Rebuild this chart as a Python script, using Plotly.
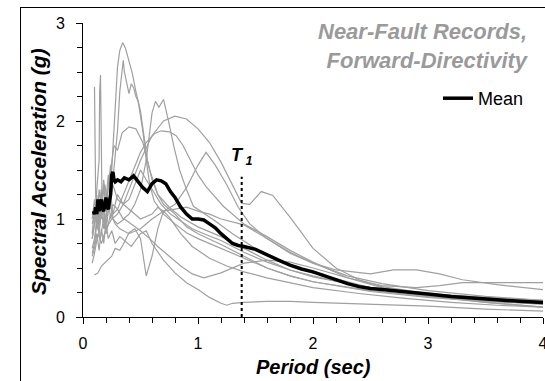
import plotly.graph_objects as go

# ---- response spectra of the individual near-fault records (period in s, Sa in g) ----
rec01_T = [0.08, 0.10, 0.12, 0.14, 0.16, 0.18, 0.20, 0.22, 0.24, 0.26, 0.28, 0.30, 0.32, 0.345, 0.37, 0.40, 0.43, 0.46, 0.50, 0.53, 0.56, 0.60, 0.65, 0.70, 0.80, 0.90, 1.00, 1.20, 1.40, 1.60, 1.80, 2.00, 2.50, 3.00, 3.50, 4.00]
rec01_Sa = [0.95, 1.05, 1.25, 0.95, 1.30, 1.05, 1.20, 1.45, 1.30, 1.70, 2.20, 2.55, 2.72, 2.80, 2.74, 2.60, 2.48, 2.30, 2.10, 1.85, 1.60, 1.40, 1.25, 1.15, 1.05, 0.92, 0.85, 0.74, 0.62, 0.50, 0.42, 0.36, 0.27, 0.21, 0.17, 0.14]

rec02_T = [0.08, 0.10, 0.12, 0.14, 0.16, 0.18, 0.20, 0.22, 0.24, 0.26, 0.28, 0.30, 0.32, 0.34, 0.35, 0.36, 0.38, 0.40, 0.42, 0.44, 0.46, 0.48, 0.50, 0.52, 0.55, 0.58, 0.62, 0.70, 0.80, 0.90, 1.00, 1.20, 1.40, 1.60, 1.80, 2.00, 2.50, 3.00, 3.50, 4.00]
rec02_Sa = [0.85, 1.10, 0.90, 1.20, 1.00, 1.35, 1.10, 1.30, 1.55, 1.40, 1.65, 1.90, 2.30, 2.55, 2.62, 2.50, 2.40, 2.28, 2.38, 2.34, 2.25, 2.20, 2.05, 1.90, 1.60, 1.35, 1.18, 1.05, 0.95, 0.86, 0.80, 0.70, 0.60, 0.50, 0.42, 0.36, 0.26, 0.20, 0.16, 0.13]

rec03_T = [0.08, 0.10, 0.12, 0.14, 0.16, 0.18, 0.20, 0.22, 0.24, 0.27, 0.30, 0.34, 0.40, 0.46, 0.52, 0.58, 0.65, 0.75, 0.85, 1.00, 1.20, 1.40, 1.60, 1.80, 2.00, 2.50, 3.00, 3.50, 4.00]
rec03_Sa = [1.00, 1.20, 0.95, 1.30, 1.10, 1.40, 1.15, 1.35, 1.50, 1.75, 1.70, 1.88, 1.94, 1.92, 1.78, 1.50, 1.25, 1.12, 1.02, 0.92, 0.82, 0.70, 0.58, 0.48, 0.41, 0.30, 0.24, 0.19, 0.16]

rec04_T = [0.08, 0.10, 0.12, 0.14, 0.16, 0.18, 0.20, 0.22, 0.24, 0.26, 0.30, 0.35, 0.40, 0.45, 0.50, 0.55, 0.60, 0.63, 0.66, 0.70, 0.74, 0.79, 0.84, 0.90, 0.96, 1.05, 1.15, 1.30, 1.50, 1.75, 2.00, 2.50, 3.00, 3.50, 4.00]
rec04_Sa = [0.70, 0.80, 1.00, 0.85, 1.10, 0.90, 1.05, 1.20, 1.00, 1.15, 1.10, 1.00, 1.05, 1.15, 1.30, 1.60, 2.08, 2.20, 2.14, 2.22, 2.02, 1.74, 1.50, 1.30, 1.13, 1.06, 0.98, 0.85, 0.70, 0.55, 0.45, 0.30, 0.22, 0.17, 0.13]

rec05_T = [0.08, 0.10, 0.13, 0.16, 0.20, 0.25, 0.30, 0.35, 0.40, 0.50, 0.60, 0.70, 0.80, 0.90, 1.00, 1.10, 1.20, 1.30, 1.38, 1.45, 1.55, 1.65, 1.80, 1.90, 2.00, 2.20, 2.40, 2.60, 3.00, 3.50, 4.00]
rec05_Sa = [0.55, 0.65, 0.85, 0.75, 0.90, 1.00, 1.05, 1.15, 1.30, 1.60, 1.85, 2.00, 2.05, 2.02, 1.92, 1.78, 1.58, 1.35, 1.16, 1.15, 1.28, 1.24, 1.02, 0.86, 0.70, 0.50, 0.38, 0.31, 0.24, 0.20, 0.17]

rec06_T = [0.08, 0.10, 0.12, 0.15, 0.18, 0.20, 0.24, 0.28, 0.32, 0.40, 0.50, 0.60, 0.70, 0.80, 0.90, 1.00, 1.07, 1.15, 1.25, 1.35, 1.45, 1.60, 1.80, 2.00, 2.20, 2.50, 2.70, 2.90, 3.10, 3.30, 3.60, 4.00]
rec06_Sa = [0.65, 0.75, 0.95, 0.80, 1.00, 0.85, 1.05, 0.95, 0.90, 0.85, 0.90, 1.00, 1.08, 1.15, 1.32, 1.55, 1.68, 1.55, 1.35, 1.12, 0.95, 0.80, 0.66, 0.55, 0.48, 0.44, 0.48, 0.48, 0.44, 0.38, 0.33, 0.28]

rec07_T = [0.08, 0.10, 0.12, 0.14, 0.17, 0.20, 0.23, 0.26, 0.30, 0.35, 0.40, 0.45, 0.50, 0.55, 0.62, 0.68, 0.75, 0.81, 0.87, 0.93, 1.00, 1.07, 1.15, 1.22, 1.40, 1.60, 1.80, 2.00, 2.30, 2.60, 2.90, 3.10, 3.30, 3.60, 4.00]
rec07_Sa = [0.80, 0.95, 1.15, 0.90, 1.20, 0.95, 1.15, 1.05, 1.10, 1.25, 1.40, 1.55, 1.68, 1.78, 1.87, 1.90, 1.89, 1.85, 1.75, 1.61, 1.45, 1.33, 1.22, 1.13, 0.95, 0.82, 0.68, 0.56, 0.40, 0.32, 0.30, 0.32, 0.35, 0.35, 0.35]

rec08_T = [0.08, 0.10, 0.12, 0.14, 0.145, 0.152, 0.158, 0.165, 0.19, 0.22, 0.26, 0.30, 0.35, 0.40, 0.50, 0.60, 0.65, 0.70, 0.80, 0.90, 1.00, 1.10, 1.20, 1.40, 1.60, 1.80, 2.00, 2.30, 2.60, 3.00, 3.50, 4.00]
rec08_Sa = [1.05, 1.00, 1.30, 1.60, 2.30, 2.47, 1.90, 1.20, 1.35, 1.10, 1.35, 1.20, 1.15, 1.10, 1.00, 1.05, 1.12, 1.08, 1.10, 1.12, 1.08, 1.05, 1.00, 0.94, 0.80, 0.65, 0.55, 0.42, 0.34, 0.27, 0.21, 0.17]

rec09_T = [0.10, 0.13, 0.16, 0.21, 0.25, 0.28, 0.32, 0.35, 0.40, 0.45, 0.50, 0.55, 0.60, 0.65, 0.70, 0.75, 0.85, 0.95, 1.10, 1.25, 1.40, 1.60, 1.80, 2.00, 2.40, 2.80, 3.20, 3.60, 4.00]
rec09_Sa = [0.43, 0.45, 0.52, 0.58, 0.62, 0.70, 0.68, 0.74, 0.86, 0.90, 0.80, 0.42, 0.62, 0.90, 1.08, 1.02, 0.85, 0.72, 0.60, 0.52, 0.46, 0.40, 0.35, 0.30, 0.24, 0.19, 0.15, 0.12, 0.10]

rec10_T = [0.08, 0.10, 0.12, 0.14, 0.16, 0.18, 0.20, 0.22, 0.25, 0.28, 0.32, 0.36, 0.42, 0.50, 0.55, 0.60, 0.70, 0.80, 0.90, 1.00, 1.10, 1.20, 1.25, 1.30, 1.40, 1.60, 1.80, 2.00, 2.50, 3.00, 3.50, 4.00]
rec10_Sa = [0.62, 0.70, 0.85, 0.68, 0.90, 0.75, 0.95, 0.80, 0.88, 0.75, 0.82, 0.78, 0.72, 0.85, 0.88, 0.75, 0.58, 0.45, 0.35, 0.28, 0.20, 0.14, 0.12, 0.14, 0.15, 0.16, 0.16, 0.15, 0.13, 0.11, 0.08, 0.06]

rec11_T = [0.08, 0.10, 0.12, 0.14, 0.16, 0.18, 0.20, 0.22, 0.24, 0.26, 0.30, 0.36, 0.42, 0.50, 0.58, 0.65, 0.75, 0.85, 0.95, 1.05, 1.20, 1.40, 1.60, 1.80, 2.00, 2.30, 2.60, 3.00, 3.50, 4.00]
rec11_Sa = [0.80, 0.95, 1.20, 1.00, 1.30, 1.05, 0.85, 1.10, 1.30, 1.00, 0.95, 1.00, 0.95, 0.88, 0.80, 0.72, 0.62, 0.52, 0.44, 0.40, 0.45, 0.55, 0.58, 0.56, 0.50, 0.40, 0.30, 0.22, 0.15, 0.10]

rec12_T = [0.10, 0.105, 0.11, 0.13, 0.16, 0.19, 0.22, 0.26, 0.30, 0.35, 0.40, 0.45, 0.50, 0.55, 0.60, 0.68, 0.76, 0.85, 0.95, 1.05, 1.20, 1.40, 1.60, 1.80, 2.00, 2.30, 2.60, 3.00, 3.50, 4.00]
rec12_Sa = [2.35, 1.95, 1.25, 0.95, 1.15, 0.90, 1.20, 1.05, 1.25, 1.15, 1.20, 1.35, 1.50, 1.40, 1.30, 1.15, 1.05, 0.98, 0.90, 0.85, 0.78, 0.66, 0.56, 0.48, 0.42, 0.34, 0.28, 0.21, 0.15, 0.10]

# ---- mean spectrum of the record set ----
mean_T = [0.09, 0.10, 0.11, 0.12, 0.13, 0.14, 0.15, 0.16, 0.17, 0.18, 0.19, 0.20, 0.21, 0.22, 0.23, 0.24, 0.25, 0.26, 0.27, 0.28, 0.30, 0.33, 0.36, 0.40, 0.44, 0.48, 0.52, 0.56, 0.60, 0.64, 0.68, 0.72, 0.76, 0.80, 0.85, 0.90, 0.95, 1.00, 1.05, 1.10, 1.15, 1.20, 1.25, 1.30, 1.35, 1.40, 1.50, 1.60, 1.70, 1.80, 1.90, 2.00, 2.10, 2.20, 2.30, 2.40, 2.50, 2.60, 2.80, 3.00, 3.20, 3.40, 3.60, 3.80, 4.00]
mean_Sa = [1.08, 1.05, 1.12, 1.05, 1.20, 1.08, 1.15, 1.20, 1.10, 1.08, 1.15, 1.22, 1.12, 1.10, 1.18, 1.25, 1.45, 1.48, 1.40, 1.38, 1.40, 1.38, 1.42, 1.40, 1.44, 1.38, 1.32, 1.28, 1.36, 1.40, 1.39, 1.36, 1.28, 1.22, 1.12, 1.05, 1.00, 1.00, 0.99, 0.95, 0.91, 0.85, 0.80, 0.75, 0.73, 0.72, 0.69, 0.63, 0.58, 0.53, 0.49, 0.46, 0.42, 0.38, 0.34, 0.31, 0.29, 0.28, 0.26, 0.235, 0.21, 0.19, 0.175, 0.16, 0.148]

# fundamental period of the structure
T1 = 1.38
T1_line_top = 1.43

records = [
    (rec01_T, rec01_Sa), (rec02_T, rec02_Sa), (rec03_T, rec03_Sa), (rec04_T, rec04_Sa),
    (rec05_T, rec05_Sa), (rec06_T, rec06_Sa), (rec07_T, rec07_Sa), (rec08_T, rec08_Sa),
    (rec09_T, rec09_Sa), (rec10_T, rec10_Sa), (rec11_T, rec11_Sa), (rec12_T, rec12_Sa),
]

W, H = 545, 381
ML, MR, MT, MB = 83, 2, 23, 64
PW, PH = W - ML - MR, H - MT - MB


def px_x(p):
    return (p - ML) / PW


def px_y(p):
    return (H - MB - p) / PH


FONT = "Liberation Sans, Arial, sans-serif"

fig = go.Figure()

for t, sa in records:
    fig.add_trace(go.Scatter(x=t, y=sa, mode="lines", showlegend=False,
                             line=dict(color="#a0a0a0", width=1.2), hoverinfo="skip"))

fig.add_trace(go.Scatter(x=mean_T, y=mean_Sa, mode="lines", name="Mean",
                         line=dict(color="black", width=3.5)))

# T1 marker
fig.add_shape(type="line", x0=T1, x1=T1, y0=0, y1=T1_line_top, xref="x", yref="y",
              line=dict(color="black", width=2, dash="dot"))
fig.add_annotation(x=T1, y=T1_line_top, xref="x", yref="y", yshift=20, showarrow=False,
                   text="<b><i>T</i></b><sub><b><i> 1</i></b></sub>",
                   font=dict(family=FONT, size=18, color="black"))

# chart frame: an empty bordered box whose left and top edges fall inside the page
fig.add_annotation(x=px_x(20), y=px_y(7), xref="paper", yref="paper",
                   xanchor="left", yanchor="top", showarrow=False, text="",
                   width=600, height=420, borderpad=0,
                   bordercolor="black", borderwidth=1)

# caption
fig.add_annotation(x=px_x(531), y=px_y(17), xref="paper", yref="paper",
                   xanchor="right", yanchor="top", align="right", showarrow=False,
                   text="<b><i>Near-Fault Records,<br>Forward-Directivity</i></b>",
                   font=dict(family=FONT, size=22, color="#9a9a9a"))

# axis titles
fig.add_annotation(x=px_x(313), y=px_y(367), xref="paper", yref="paper",
                   xanchor="center", yanchor="middle", showarrow=False,
                   text="<b><i>Period (sec)</i></b>",
                   font=dict(family=FONT, size=20, color="black"))
fig.add_annotation(x=px_x(38), y=px_y(172), xref="paper", yref="paper",
                   xanchor="center", yanchor="middle", showarrow=False, textangle=-90,
                   text="<b><i>Spectral Acceleration (g)</i></b>",
                   font=dict(family=FONT, size=21, color="black"))

axis_common = dict(showgrid=False, zeroline=False, showline=True, linecolor="black",
                   linewidth=1, ticks="outside", tickcolor="black", ticklen=6, tickwidth=1.3,
                   tickfont=dict(family=FONT, size=16, color="black"), automargin=False,
                   ticklabeloverflow="allow")

fig.update_xaxes(range=[0, 4], dtick=1, tick0=0, ticklabelstandoff=6,
                 minor=dict(dtick=0.2, ticks="outside", ticklen=5, tickcolor="black", tickwidth=1),
                 **axis_common)
fig.update_yaxes(range=[0, 3], dtick=1, tick0=0, ticklabelstandoff=8,
                 minor=dict(dtick=0.25, ticks="outside", ticklen=5, tickcolor="black", tickwidth=1),
                 **axis_common)

fig.update_layout(
    width=W, height=H,
    margin=dict(l=ML, r=MR, t=MT, b=MB, pad=0),
    paper_bgcolor="white", plot_bgcolor="white",
    template="none",
    font=dict(family=FONT, color="black"),
    showlegend=True,
    legend=dict(x=px_x(438), y=px_y(80), xanchor="left", yanchor="top",
                bgcolor="rgba(0,0,0,0)", borderwidth=0,
                font=dict(family=FONT, size=18, color="black"),
                itemwidth=30, tracegroupgap=0),
)

fig.write_html("out.html")
